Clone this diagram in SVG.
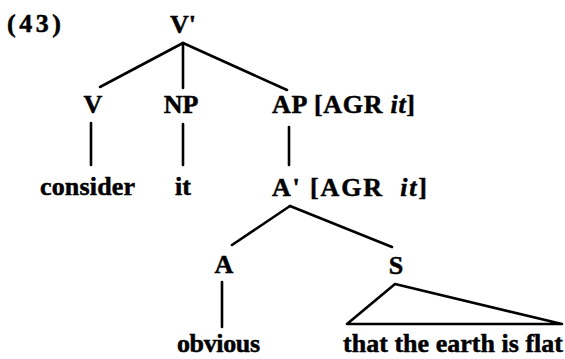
<svg xmlns="http://www.w3.org/2000/svg" width="565" height="359" viewBox="0 0 565 359">
<style>
text{font-family:"Liberation Serif","Times New Roman",serif;font-weight:bold;font-size:26px;fill:#000;stroke:#000;stroke-width:0.5}
.it{font-style:italic}
.e{stroke:#000;stroke-width:2.6;fill:none;stroke-linecap:round;stroke-linejoin:round}
</style>
<rect width="565" height="359" fill="#fff"/>
<text id="ex" x="7" y="32" font-size="28" textLength="54">(43)</text>
<g id="n-vbar"><text x="183" y="33" text-anchor="middle">V'</text></g>
<g id="n-v"><text x="93" y="113" text-anchor="middle">V</text></g>
<g id="n-np"><text x="181" y="113" text-anchor="middle">NP</text></g>
<g id="n-ap"><text x="272" y="113" textLength="143">AP [AGR <tspan class="it">it</tspan>]</text></g>
<g id="n-consider"><text x="40" y="195" textLength="95">consider</text></g>
<g id="n-it"><text x="183" y="195" text-anchor="middle">it</text></g>
<g id="n-abar"><text x="272" y="196" textLength="155">A' [AGR <tspan class="it" dx="8">it</tspan>]</text></g>
<g id="n-a"><text x="224" y="273" text-anchor="middle">A</text></g>
<g id="n-s"><text x="396" y="274" text-anchor="middle">S</text></g>
<g id="n-obvious"><text x="177" y="352" textLength="83">obvious</text></g>
<g id="n-clause"><text x="343" y="352" textLength="220">that the earth is flat</text></g>
<g id="connectors" class="e">
<line x1="183" y1="43" x2="100" y2="87"/>
<line x1="183" y1="43" x2="183" y2="88"/>
<line x1="183" y1="43" x2="287" y2="90"/>
<line x1="91" y1="123" x2="91" y2="165"/>
<line x1="183" y1="124" x2="183" y2="165"/>
<line x1="289" y1="127" x2="289" y2="165"/>
<line x1="290" y1="206" x2="232" y2="245"/>
<line x1="290" y1="206" x2="392" y2="247"/>
<line x1="222" y1="282" x2="222" y2="327"/>
<polygon points="395,284 347,324 562,324"/>
</g>
</svg>
